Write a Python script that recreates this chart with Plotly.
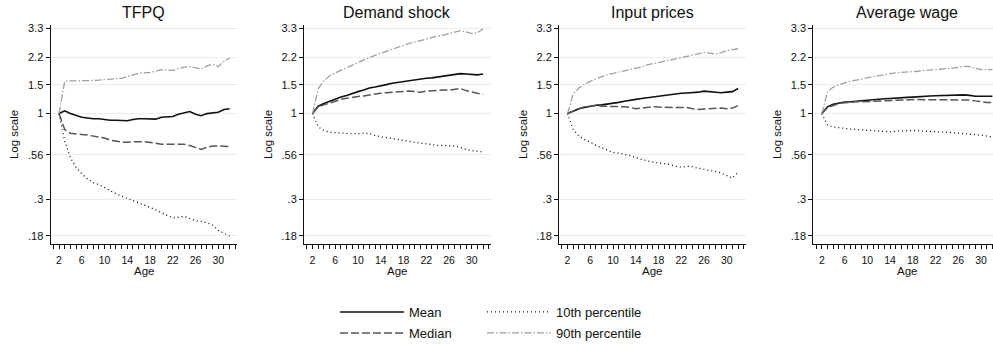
import plotly.graph_objects as go

ages = list(range(2, 33))
tick_vals_x = [2, 6, 10, 14, 18, 22, 26, 30]
y_tick_vals = [0.18, 0.3, 0.56, 1, 1.5, 2.2, 3.3]
y_tick_text = [".18", ".3", ".56", "1", "1.5", "2.2", "3.3"]
panel_titles = ["TFPQ", "Demand shock", "Input prices", "Average wage"]
series_names = ["Mean", "Median", "10th percentile", "90th percentile"]

# TFPQ
tfpq_mean = [1.00, 1.04, 1.00, 0.97, 0.95, 0.94, 0.93, 0.93, 0.92, 0.91, 0.91, 0.905, 0.905, 0.92, 0.93, 0.93,
             0.93, 0.925, 0.95, 0.955, 0.96, 0.99, 1.01, 1.03, 0.99, 0.97, 1.00, 1.015, 1.02, 1.06, 1.07]
tfpq_median = [1.00, 0.80, 0.76, 0.75, 0.745, 0.74, 0.73, 0.72, 0.71, 0.69, 0.68, 0.67, 0.67, 0.675, 0.675, 0.675,
               0.67, 0.66, 0.65, 0.65, 0.65, 0.65, 0.65, 0.64, 0.62, 0.605, 0.625, 0.635, 0.635, 0.635, 0.63]
tfpq_p10 = [1.00, 0.68, 0.54, 0.47, 0.43, 0.40, 0.38, 0.37, 0.355, 0.34, 0.325, 0.315, 0.305, 0.295, 0.286, 0.278,
            0.27, 0.26, 0.25, 0.24, 0.232, 0.234, 0.237, 0.23, 0.223, 0.221, 0.217, 0.21, 0.195, 0.187, 0.18]
tfpq_p90 = [1.00, 1.57, 1.58, 1.58, 1.59, 1.58, 1.59, 1.60, 1.61, 1.62, 1.62, 1.64, 1.68, 1.72, 1.76, 1.77,
            1.78, 1.81, 1.85, 1.84, 1.83, 1.88, 1.92, 1.93, 1.90, 1.87, 1.95, 2.00, 1.93, 2.08, 2.18]

# Demand shock
dem_mean = [1.00, 1.11, 1.15, 1.19, 1.22, 1.26, 1.29, 1.33, 1.36, 1.39, 1.43, 1.45, 1.47, 1.50, 1.53, 1.55,
            1.57, 1.59, 1.60, 1.62, 1.64, 1.65, 1.67, 1.69, 1.71, 1.73, 1.75, 1.74, 1.73, 1.72, 1.74]
dem_median = [1.00, 1.10, 1.13, 1.16, 1.19, 1.22, 1.24, 1.26, 1.27, 1.28, 1.30, 1.32, 1.33, 1.34, 1.35, 1.35,
              1.36, 1.37, 1.36, 1.35, 1.37, 1.38, 1.39, 1.39, 1.39, 1.40, 1.42, 1.38, 1.35, 1.33, 1.31]
dem_p10 = [1.00, 0.83, 0.79, 0.77, 0.765, 0.76, 0.755, 0.755, 0.755, 0.76, 0.755, 0.735, 0.72, 0.715, 0.705, 0.70,
           0.69, 0.68, 0.67, 0.66, 0.655, 0.645, 0.64, 0.64, 0.64, 0.635, 0.625, 0.605, 0.595, 0.59, 0.585]
dem_p90 = [1.00, 1.42, 1.58, 1.70, 1.77, 1.83, 1.90, 1.97, 2.04, 2.12, 2.20, 2.26, 2.33, 2.40, 2.47, 2.54,
           2.60, 2.67, 2.73, 2.79, 2.85, 2.91, 2.96, 3.00, 3.07, 3.14, 3.20, 3.14, 3.07, 3.10, 3.28]

# Input prices
inp_mean = [1.00, 1.04, 1.07, 1.09, 1.11, 1.125, 1.13, 1.14, 1.15, 1.17, 1.19, 1.21, 1.22, 1.235, 1.25, 1.26,
            1.27, 1.285, 1.30, 1.315, 1.33, 1.335, 1.34, 1.35, 1.37, 1.36, 1.34, 1.34, 1.35, 1.36, 1.42]
inp_median = [1.00, 1.04, 1.07, 1.10, 1.115, 1.12, 1.11, 1.11, 1.10, 1.10, 1.10, 1.09, 1.07, 1.08, 1.09, 1.10,
              1.095, 1.09, 1.09, 1.09, 1.09, 1.09, 1.07, 1.06, 1.065, 1.07, 1.075, 1.08, 1.07, 1.08, 1.12]
inp_p10 = [1.00, 0.80, 0.73, 0.695, 0.67, 0.64, 0.62, 0.60, 0.58, 0.575, 0.567, 0.555, 0.54, 0.525, 0.515, 0.507,
           0.50, 0.497, 0.49, 0.478, 0.472, 0.477, 0.475, 0.465, 0.455, 0.45, 0.445, 0.435, 0.42, 0.405, 0.44]
inp_p90 = [1.00, 1.32, 1.43, 1.51, 1.57, 1.63, 1.68, 1.72, 1.76, 1.79, 1.82, 1.85, 1.87, 1.92, 1.98, 2.01,
           2.04, 2.08, 2.12, 2.15, 2.19, 2.23, 2.27, 2.32, 2.35, 2.33, 2.30, 2.35, 2.42, 2.45, 2.48]

# Average wage
wage_mean = [1.00, 1.10, 1.14, 1.16, 1.175, 1.18, 1.19, 1.20, 1.21, 1.22, 1.225, 1.23, 1.235, 1.245, 1.25, 1.255,
             1.26, 1.27, 1.275, 1.28, 1.285, 1.29, 1.29, 1.30, 1.30, 1.30, 1.29, 1.275, 1.275, 1.275, 1.275]
wage_median = [1.00, 1.09, 1.12, 1.15, 1.165, 1.175, 1.18, 1.18, 1.185, 1.19, 1.195, 1.20, 1.205, 1.21, 1.215, 1.22,
               1.22, 1.22, 1.215, 1.215, 1.215, 1.22, 1.22, 1.22, 1.215, 1.215, 1.21, 1.195, 1.18, 1.17, 1.17]
wage_p10 = [1.00, 0.85, 0.83, 0.82, 0.81, 0.805, 0.80, 0.795, 0.79, 0.785, 0.78, 0.775, 0.775, 0.78, 0.785, 0.79,
            0.79, 0.785, 0.78, 0.778, 0.775, 0.772, 0.77, 0.765, 0.76, 0.757, 0.755, 0.745, 0.74, 0.73, 0.72]
wage_p90 = [1.00, 1.36, 1.45, 1.50, 1.54, 1.57, 1.60, 1.63, 1.65, 1.68, 1.70, 1.73, 1.75, 1.77, 1.78, 1.79,
            1.79, 1.81, 1.83, 1.84, 1.84, 1.85, 1.87, 1.89, 1.91, 1.94, 1.93, 1.88, 1.85, 1.85, 1.85]

panels = [
    [tfpq_mean, tfpq_median, tfpq_p10, tfpq_p90],
    [dem_mean, dem_median, dem_p10, dem_p90],
    [inp_mean, inp_median, inp_p10, inp_p90],
    [wage_mean, wage_median, wage_p10, wage_p90],
]

W, H = 993, 348
PLOT_TOP, PLOT_BOTTOM = 25, 244
FONT = "Liberation Sans, Arial, sans-serif"
styles = [
    dict(color="#111111", width=1.6, dash="solid"),
    dict(color="#555555", width=1.5, dash="8px,3px"),
    dict(color="#111111", width=1.3, dash="1px,3px"),
    dict(color="#a0a0a0", width=1.3, dash="7px,2px,1.5px,2px"),
]
legend_ids = ["legend", "legend2", "legend3", "legend4"]

panel_px = [(50.5, 237.0), (304.0, 490.5), (559.0, 745.5), (813.3, 993.0)]
px_per_year = 5.686
x_lo = 0.5


def ypaper(ypx):
    return (PLOT_BOTTOM - ypx) / (PLOT_BOTTOM - PLOT_TOP)


fig = go.Figure()
layout = dict(
    width=W, height=H,
    margin=dict(l=0, r=0, t=PLOT_TOP, b=H - PLOT_BOTTOM),
    paper_bgcolor="white", plot_bgcolor="white",
    font=dict(family=FONT, size=11, color="#111111"),
    showlegend=True,
)
annotations = []
for i, data in enumerate(panels):
    xa = "x" if i == 0 else f"x{i+1}"
    ya = "y" if i == 0 else f"y{i+1}"
    for j, vals in enumerate(data):
        fig.add_trace(go.Scatter(
            x=ages, y=vals, mode="lines", name=series_names[j],
            line=styles[j], xaxis=xa, yaxis=ya,
            showlegend=(i == 0), legend=legend_ids[j],
        ))
    x0, x1 = panel_px[i]
    x_hi = x_lo + (x1 - x0) / px_per_year
    xkey = "xaxis" if i == 0 else f"xaxis{i+1}"
    ykey = "yaxis" if i == 0 else f"yaxis{i+1}"
    layout[xkey] = dict(
        domain=[x0 / W, x1 / W], range=[x_lo, x_hi], anchor=ya,
        tickvals=tick_vals_x, ticks="outside", ticklen=4, tickwidth=1, tickcolor="#111",
        showline=True, linecolor="#111", linewidth=1, showgrid=False, zeroline=False,
        tickfont=dict(size=10.5), ticklabelstandoff=2,
        minor=dict(dtick=1, tick0=2, ticks="outside", ticklen=4, tickcolor="#111", showgrid=False),
    )
    layout[ykey] = dict(
        domain=[0, 1], type="log", range=[-0.7935, 0.539], anchor=xa,
        tickvals=y_tick_vals, ticktext=y_tick_text, ticks="outside", ticklen=4, tickcolor="#111",
        showline=True, linecolor="#111", linewidth=1, showgrid=True, gridcolor="#e6eef0", gridwidth=1,
        zeroline=False, tickfont=dict(size=11),
        title=dict(text="Log scale", font=dict(size=11.5), standoff=6),
    )
    cx = (x0 + x1) / 2 / W if i < 3 else (x0 + x0 + 186.5) / 2 / W
    annotations.append(dict(
        text=panel_titles[i], x=cx, xref="paper", y=ypaper(12), yref="paper",
        showarrow=False, font=dict(size=16, color="#111"), xanchor="center", yanchor="middle",
    ))
    annotations.append(dict(
        text="Age", x=cx, xref="paper", y=ypaper(263), yref="paper",
        showarrow=False, font=dict(size=11.5, color="#111"), xanchor="center", yanchor="top",
    ))

legend_pos = [(335, 312), (335, 333), (482, 312), (482, 333)]
for lid, (lx, ly) in zip(legend_ids, legend_pos):
    layout[lid] = dict(
        x=lx / W, y=ypaper(ly), xanchor="left", yanchor="middle",
        orientation="v", itemwidth=64, font=dict(size=13, color="#111"),
        bgcolor="rgba(0,0,0,0)", borderwidth=0,
    )
layout["annotations"] = annotations
fig.update_layout(**layout)
fig.write_html("out.html")
